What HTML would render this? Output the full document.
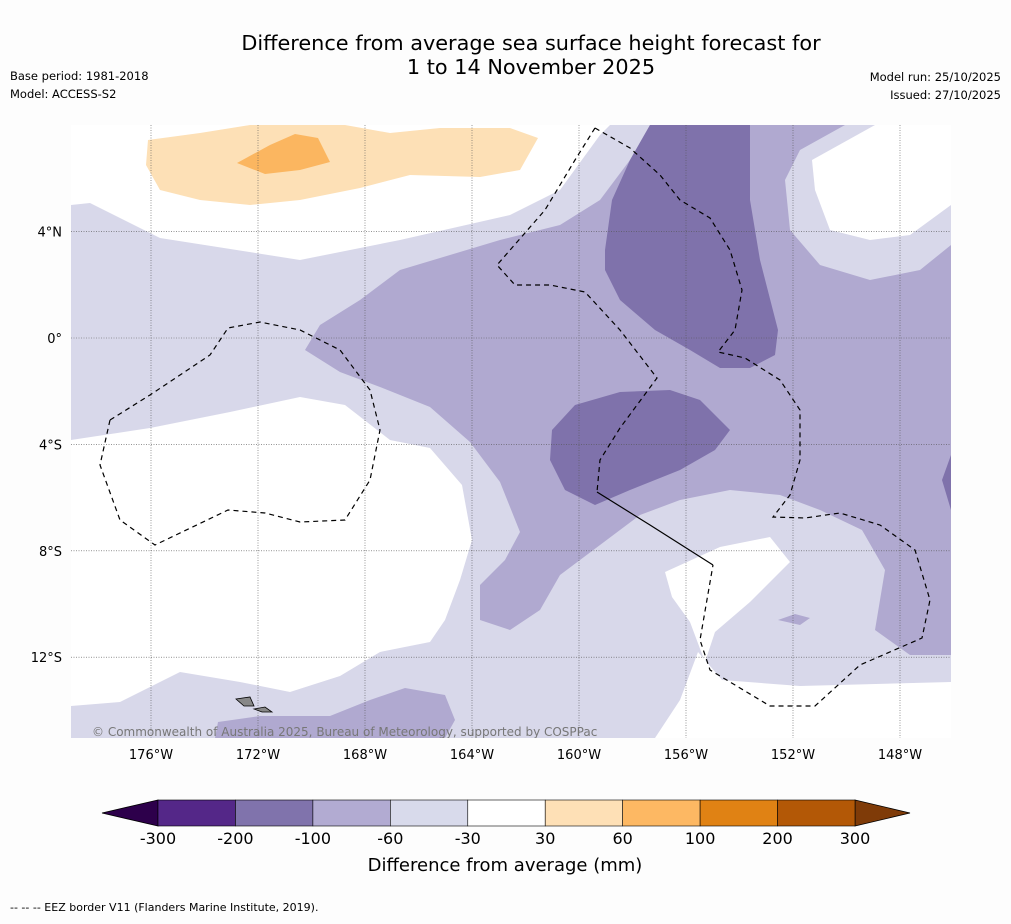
<!DOCTYPE html>
<html><head><meta charset="utf-8"><style>
body{margin:0;background:#fdfdfd;font-family:"Liberation Sans","DejaVu Sans",sans-serif;}
svg text{font-family:"DejaVu Sans","Liberation Sans",sans-serif;}
</style></head><body>
<svg id="s" width="1011" height="919" xmlns="http://www.w3.org/2000/svg">
<rect width="1011" height="919" fill="#fdfdfd"/>
<text x="531" y="50" font-size="20.8" text-anchor="middle">Difference from average sea surface height forecast for</text>
<text x="531" y="74" font-size="20.8" text-anchor="middle">1 to 14 November 2025</text>
<text x="10" y="80" font-size="11.5">Base period: 1981-2018</text>
<text x="10" y="98" font-size="11.5">Model: ACCESS-S2</text>
<text x="1001" y="81" font-size="11.5" text-anchor="end">Model run: 25/10/2025</text>
<text x="1001" y="99" font-size="11.5" text-anchor="end">Issued: 27/10/2025</text>
<defs><clipPath id="mc"><rect x="71" y="125" width="880" height="613"/></clipPath></defs>
<g id="map" clip-path="url(#mc)"></g>
<g id="cb"></g>
<text x="505" y="871" font-size="18" text-anchor="middle">Difference from average (mm)</text>
<text x="10" y="911" font-size="11">--  --  -- EEZ border V11 (Flanders Marine Institute, 2019).</text>
</svg>
<script>
const lonTicks=[-176,-172,-168,-164,-160,-156,-152,-148];
const latTicks=[4,0,-4,-8,-12];
const levels=[-300,-200,-100,-60,-30,30,60,100,200,300];
const levelColors=["#542788","#8073ac","#b2abd2","#d8daeb","#ffffff","#fee0b6","#fdb863","#e08214","#b35806"];
const extendColors=["#2d004b","#7f3b08"];
const xLon=l=>151+(l+176)*26.75;
const yLat=l=>338-l*26.6;
const NS="http://www.w3.org/2000/svg";
function mk(t,a,p){const e=document.createElementNS(NS,t);for(const k in a)e.setAttribute(k,a[k]);p.appendChild(e);return e;}
const map=document.getElementById('map');
const L="#d8d8ea",M="#b0a9d0",D="#7f72ab",C="#fde0b6",O="#fbb660";
const regions=[
[L,"71,125 951,125 951,738 71,738"],
["#fff","71,125 610,125 600,135 560,190 510,215 400,240 300,260 160,238 90,203 71,205"],
["#fff","875,125 951,125 951,205 910,235 870,240 830,230 815,190 812,160"],
["#fff","71,440 150,428 230,412 300,397 345,405 390,440 430,448 462,485 472,540 460,580 445,620 430,642 380,652 340,676 290,692 240,682 180,672 120,702 71,706"],
["#fff","665,572 720,547 770,537 790,562 750,602 715,632 705,662 690,622 672,597"],
["#fff","655,738 680,700 698,652 722,680 800,686 951,682 951,738"],
[M,"305,350 320,325 360,300 400,270 450,255 500,240 560,225 600,200 630,160 650,125 845,125 800,150 785,180 790,230 820,265 870,280 920,270 951,245 951,655 910,655 875,630 885,570 862,530 820,510 780,495 730,490 680,500 640,515 600,545 560,575 540,610 510,630 480,620 480,585 505,560 520,532 500,482 470,442 430,407 380,387 340,372"],
[M,"218,722 260,716 330,716 370,700 405,688 445,695 455,720 445,738 215,738"],
[M,"778,620 795,614 810,618 800,625"],
[D,"605,250 612,200 630,160 650,125 750,125 750,200 760,260 778,330 775,355 750,368 720,368 690,350 655,330 620,300 605,270"],
[D,"552,430 575,405 620,392 670,390 700,400 730,430 715,450 680,470 630,490 595,505 565,490 550,460"],
[D,"951,455 942,480 951,510"],
[C,"148,140 200,133 250,125 345,125 390,133 440,128 510,128 538,138 520,170 480,177 410,175 360,188 300,200 250,205 200,200 160,190 146,165"],
[O,"237,163 270,145 295,134 318,138 330,162 300,170 265,174"]
];
regions.forEach((r,i)=>{const p=mk('polygon',{points:r[1],fill:r[0]},map);

});
lonTicks.forEach(l=>{const g=mk('line',{x1:xLon(l),x2:xLon(l),y1:125,y2:738,stroke:"#555","stroke-width":0.6,"stroke-dasharray":"1,1.5"},map);

});
latTicks.forEach(l=>{const g=mk('line',{x1:71,x2:951,y1:yLat(l),y2:yLat(l),stroke:"#555","stroke-width":0.6,"stroke-dasharray":"1,1.5"},map);

});
const eez=[
"110,420 150,395 210,355 228,328 260,322 300,330 340,350 370,390 380,430 370,480 345,520 300,522 265,513 228,510 155,545 120,520 100,465 110,420",
"595,128 630,148 660,175 680,200 710,218 730,250 742,290 735,330 718,352 745,358 780,380 800,410 800,460 790,495 773,517 805,518 840,513 880,525 915,550 930,600 922,638 860,665 815,706 770,706 710,670 700,640 713,565",
"595,128 575,160 545,210 497,265 515,285 550,285 585,292 620,330 657,378 620,428 600,460 597,492"];
eez.forEach(p=>{const e=mk('polyline',{points:p,fill:"none",stroke:"#000","stroke-width":1.2,"stroke-dasharray":"5,4"},map);

});
const sl=mk('polyline',{points:"597,492 650,525 713,565",fill:"none",stroke:"#000","stroke-width":1.2},map);


const isl=mk('polygon',{points:"236,699 250,697 254,706 244,706",fill:"#888",stroke:"#000","stroke-width":0.8},map);


const isl2=mk('polygon',{points:"254,709 265,707 272,712 262,712",fill:"#888",stroke:"#000","stroke-width":0.8},map);


const cp=mk('text',{x:92,y:736,"font-size":12,fill:"#777"},map);cp.textContent="© Commonwealth of Australia 2025, Bureau of Meteorology, supported by COSPPac";


const s=document.getElementById('s');
lonTicks.forEach(l=>{const t=mk('text',{x:xLon(l),y:759,"font-size":13,"text-anchor":"middle"},s);t.textContent=Math.abs(l)+"°W";

});
latTicks.forEach(l=>{const t=mk('text',{x:62,y:yLat(l)+5,"font-size":13,"text-anchor":"end"},s);t.textContent=l===0?"0°":Math.abs(l)+"°"+(l>0?"N":"S");

});
const cb=document.getElementById('cb');
const cx0=158,cx1=855,bw=(cx1-cx0)/(levels.length-1),cy=800,ch=26;
const lx=i=>cx0+i*bw;
const t1=mk('polygon',{points:`${cx0},${cy} ${cx0},${cy+ch} 102,${cy+ch/2}`,fill:extendColors[0],stroke:"#000","stroke-width":0.8},cb);


const t2=mk('polygon',{points:`${cx1},${cy} ${cx1},${cy+ch} 910,${cy+ch/2}`,fill:extendColors[1],stroke:"#000","stroke-width":0.8},cb);


levelColors.forEach((c,i)=>{const r=mk('rect',{x:lx(i),y:cy,width:bw,height:ch,fill:c,stroke:"#000","stroke-width":0.6},cb);

});
levels.forEach((v,i)=>{const t=mk('text',{x:lx(i),y:844,"font-size":16,"text-anchor":"middle"},cb);t.textContent=v;

});
</script>
</body></html>
